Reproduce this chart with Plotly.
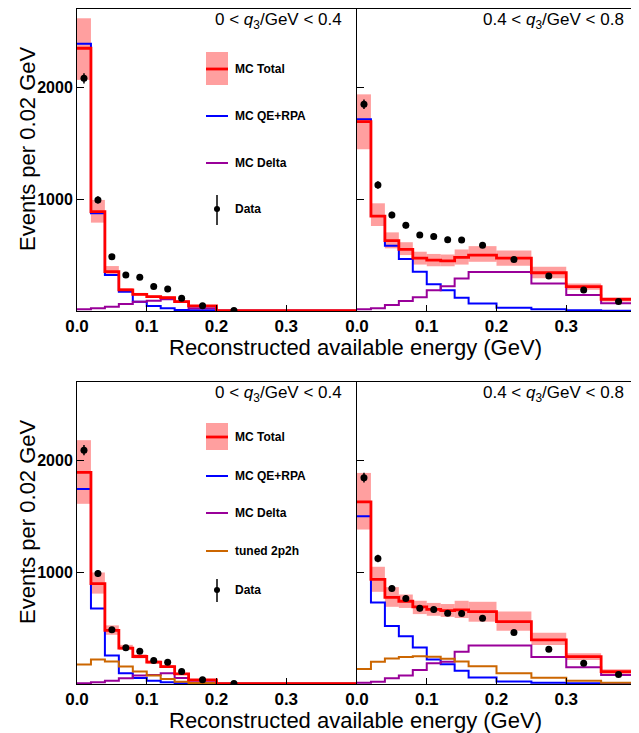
import plotly.graph_objects as go

# ---------------- data ----------------
edges = [0.0, 0.02, 0.04, 0.06, 0.08, 0.10, 0.12, 0.14, 0.16, 0.20, 0.25, 0.30, 0.35, 0.40]
x_ticks = [0.0, 0.1, 0.2, 0.3]
x_ticklabels = ["0.0", "0.1", "0.2", "0.3"]
y_ticks = [1000, 2000]
y_ticklabels = ["1000", "2000"]

panel_labels = ["0 < <i>q</i><sub>3</sub>/GeV < 0.4", "0.4 < <i>q</i><sub>3</sub>/GeV < 0.8"]

# top-left (0 < q3 < 0.4), default model
tl_total = [2349, 888, 352, 188, 149, 128, 119, 83, 45, 4, 3, 3, 3]
tl_lo = [2066, 790, 322, 172, 137, 116, 107, 74, 38, 2, 2, 2, 2]
tl_hi = [2617, 993, 402, 205, 162, 140, 131, 92, 52, 6, 4, 4, 4]
tl_qe = [2390, 873, 322, 173, 83, 45, 24, 9, 6, 2, 2, 2, 2]
tl_delta = [15, 24, 39, 63, 83, 92, 104, 83, 24, 3, 2, 2, 2]
tl_data = [2080, 993, 486, 322, 301, 218, 197, 113, 48, 5]
tl_err = [46, 32, 22, 18, 17, 15, 14, 11, 7, 2]

# top-right (0.4 < q3 < 0.8), default model
tr_total = [1693, 849, 629, 551, 472, 455, 449, 479, 500, 472, 342, 218, 104]
tr_lo = [1446, 760, 560, 500, 415, 400, 400, 415, 440, 405, 292, 190, 85]
tr_hi = [1937, 963, 703, 615, 530, 510, 505, 550, 580, 540, 396, 245, 122]
tr_qe = [1714, 849, 584, 465, 350, 239, 185, 119, 68, 30, 15, 6, 3]
tr_delta = [15, 24, 54, 90, 124, 185, 222, 290, 348, 348, 246, 143, 69]
tr_data = [1848, 1127, 858, 766, 680, 665, 638, 634, 587, 460, 313, 188, 86]
tr_err = [43, 34, 29, 28, 26, 26, 25, 25, 17, 14, 11, 9, 6]

# bottom-left (0 < q3 < 0.4), tuned 2p2h model
bl_total = [1892, 898, 479, 320, 246, 195, 156, 90, 36, 3, 3, 3, 3]
bl_lo = [1611, 808, 440, 305, 230, 182, 145, 82, 30, 2, 2, 2, 2]
bl_hi = [2180, 997, 524, 350, 265, 210, 170, 100, 45, 5, 4, 4, 4]
bl_qe = [1743, 674, 254, 96, 54, 30, 15, 6, 3, 2, 2, 2, 2]
bl_delta = [6, 15, 30, 51, 75, 81, 96, 54, 15, 3, 2, 2, 2]
bl_2p2h = [174, 219, 201, 156, 111, 75, 45, 21, 9, 3, 2, 2, 2]
bl_data = [2090, 988, 485, 323, 293, 210, 195, 111, 39, 5]
bl_err = [46, 31, 22, 18, 17, 15, 14, 11, 7, 2]

# bottom-right (0.4 < q3 < 0.8), tuned 2p2h model
br_total = [1628, 935, 774, 740, 690, 667, 656, 662, 647, 557, 395, 244, 110]
br_lo = [1381, 824, 690, 680, 625, 610, 600, 590, 557, 476, 348, 214, 86]
br_hi = [1887, 1048, 866, 800, 744, 725, 715, 744, 735, 649, 458, 274, 131]
br_qe = [1500, 729, 518, 426, 326, 219, 177, 118, 58, 22, 12, 6, 3]
br_delta = [12, 21, 51, 75, 125, 185, 198, 288, 345, 345, 242, 149, 80]
br_2p2h = [134, 199, 229, 242, 248, 243, 225, 202, 158, 97, 55, 30, 12]
br_data = [1845, 1122, 854, 765, 677, 665, 633, 631, 587, 460, 310, 185, 86]
br_err = [43, 34, 29, 28, 26, 26, 25, 25, 17, 14, 11, 9, 6]

# ---------------- style ----------------
PAGE_W, PAGE_H = 639, 733
OFF = 8  # default page body margin
W, H = PAGE_W - OFF, PAGE_H - OFF
FONT = "Liberation Sans"
RED = "#ff0000"
BAND = "rgba(255,80,80,0.55)"
BLUE = "#0000ff"
PURPLE = "#990099"
ORANGE = "#cc6600"

centers = [(a + b) / 2 for a, b in zip(edges[:-1], edges[1:])]
widths = [b - a for a, b in zip(edges[:-1], edges[1:])]


def px(xp):
    return (xp - OFF) / W


def py(yp):
    return 1 - (yp - OFF) / H


fig = go.Figure()


def step(vals, color, xa, ya, width=2.0):
    fig.add_trace(go.Scatter(
        x=edges, y=list(vals) + [vals[-1]], mode="lines", line_shape="hv",
        line=dict(color=color, width=width), xaxis=xa, yaxis=ya,
        showlegend=False, hoverinfo="skip"))


def panel(xa, ya, total, lo, hi, qe, delta, data, err, tp=None):
    fig.add_trace(go.Bar(
        x=centers, y=[h - l for h, l in zip(hi, lo)], base=lo, width=widths,
        marker=dict(color=BAND, line=dict(width=0)), xaxis=xa, yaxis=ya,
        showlegend=False, hoverinfo="skip"))
    step(qe, BLUE, xa, ya)
    step(delta, PURPLE, xa, ya)
    if tp is not None:
        step(tp, ORANGE, xa, ya)
    step(total, RED, xa, ya, 2.8)
    fig.add_trace(go.Scatter(
        x=centers[:len(data)], y=data, mode="markers",
        marker=dict(color="black", size=7),
        error_y=dict(type="data", array=err, color="black", thickness=1.5, width=0),
        xaxis=xa, yaxis=ya, showlegend=False))


panel("x", "y", tl_total, tl_lo, tl_hi, tl_qe, tl_delta, tl_data, tl_err)
panel("x2", "y2", tr_total, tr_lo, tr_hi, tr_qe, tr_delta, tr_data, tr_err)
panel("x3", "y3", bl_total, bl_lo, bl_hi, bl_qe, bl_delta, bl_data, bl_err, bl_2p2h)
panel("x4", "y4", br_total, br_lo, br_hi, br_qe, br_delta, br_data, br_err, br_2p2h)

xl = [px(77), px(356)]
xr = [px(357), px(636)]
yt = [py(311), py(9)]
yb = [py(684), py(382)]

common_x = dict(range=[0, 0.4], tickvals=x_ticks, ticktext=x_ticklabels, ticks="inside",
                ticklen=6, tickcolor="black", showline=True, linecolor="black", linewidth=1,
                mirror=True, showgrid=False, zeroline=False, automargin=False,
                tickfont=dict(family=FONT, size=17, color="black", weight="bold"))
common_y = dict(range=[0, 2700], tickvals=y_ticks, ticktext=y_ticklabels, ticks="inside",
                ticklen=7, tickcolor="black", showline=True, linecolor="black", linewidth=1,
                mirror=True, showgrid=False, zeroline=False, automargin=False,
                tickfont=dict(family=FONT, size=16, color="black", weight="bold"))

fig.update_layout(
    width=W, height=H, margin=dict(l=0, r=0, t=0, b=0, autoexpand=False),
    paper_bgcolor="white", plot_bgcolor="rgba(0,0,0,0)", barmode="overlay",
    showlegend=False,
    xaxis=dict(domain=xl, anchor="y", **common_x),
    yaxis=dict(domain=yt, anchor="x", **common_y),
    xaxis2=dict(domain=xr, anchor="y2", **common_x),
    yaxis2=dict(domain=yt, anchor="x2", showticklabels=False, **common_y),
    xaxis3=dict(domain=xl, anchor="y3", **common_x),
    yaxis3=dict(domain=yb, anchor="x3", **common_y),
    xaxis4=dict(domain=xr, anchor="y4", **common_x),
    yaxis4=dict(domain=yb, anchor="x4", showticklabels=False, **common_y),
)

ann = []
shapes = []

# axis titles
for yy in (347, 720):
    ann.append(dict(x=px(355), y=py(yy), xref="paper", yref="paper", text="Reconstructed available energy (GeV)",
                    showarrow=False, font=dict(family=FONT, size=22, color="black"),
                    xanchor="center", yanchor="middle"))
for yy in (149, 522):
    ann.append(dict(x=px(27), y=py(yy), xref="paper", yref="paper", text="Events per 0.02 GeV",
                    showarrow=False, textangle=-90, font=dict(family=FONT, size=22, color="black"),
                    xanchor="center", yanchor="middle"))

# panel labels
for (xx, yy, t) in [(344, 21, panel_labels[0]), (626, 21, panel_labels[1]),
                    (344, 394, panel_labels[0]), (626, 394, panel_labels[1])]:
    ann.append(dict(x=px(xx), y=py(yy), xref="paper", yref="paper", text=t, showarrow=False,
                    font=dict(family=FONT, size=17, color="black"), xanchor="right", yanchor="middle"))


def legend(box, rows, data_y, data_bar):
    shapes.append(dict(type="rect", xref="paper", yref="paper", x0=px(206), x1=px(228),
                       y0=py(box[1]), y1=py(box[0]), fillcolor=BAND, line=dict(width=0)))
    for (label, color, yy) in rows:
        lw = 2.8 if color == RED else 2.0
        shapes.append(dict(type="line", xref="paper", yref="paper", x0=px(206), x1=px(228),
                           y0=py(yy), y1=py(yy), line=dict(color=color, width=lw)))
        ann.append(dict(x=px(233), y=py(yy), xref="paper", yref="paper", text=label, showarrow=False,
                        font=dict(family=FONT, size=12, color="black", weight="bold"),
                        xanchor="left", yanchor="middle"))
    shapes.append(dict(type="line", xref="paper", yref="paper", x0=px(217), x1=px(217),
                       y0=py(data_bar[1]), y1=py(data_bar[0]), line=dict(color="black", width=1.5)))
    shapes.append(dict(type="circle", xref="paper", yref="paper", x0=px(214), x1=px(220),
                       y0=py(data_y + 3), y1=py(data_y - 3), fillcolor="black", line=dict(width=0)))
    ann.append(dict(x=px(233), y=py(data_y), xref="paper", yref="paper", text="Data", showarrow=False,
                    font=dict(family=FONT, size=12, color="black", weight="bold"),
                    xanchor="left", yanchor="middle"))


legend((52, 85), [("MC Total", RED, 69), ("MC QE+RPA", BLUE, 116), ("MC Delta", PURPLE, 163)],
       209, (195, 225))
legend((423, 450), [("MC Total", RED, 437), ("MC QE+RPA", BLUE, 476), ("MC Delta", PURPLE, 513),
                    ("tuned 2p2h", ORANGE, 551)], 590, (579, 602))

fig.update_layout(annotations=ann, shapes=shapes)
fig.write_html("out.html")
